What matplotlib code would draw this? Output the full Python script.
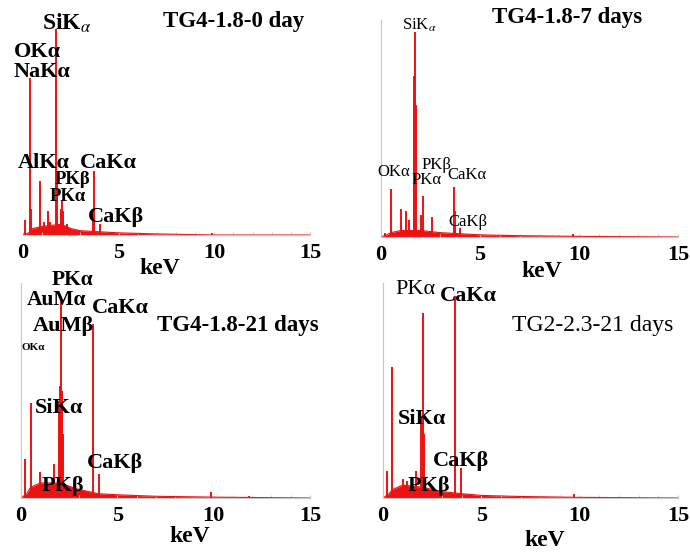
import matplotlib
matplotlib.use("Agg")
import matplotlib.pyplot as plt
from matplotlib.ticker import MultipleLocator

plt.rcParams['font.family'] = ['Liberation Serif', 'DejaVu Serif']
plt.rcParams['mathtext.fontset'] = 'stix'

RED = '#ee1111'
GRAY = '#c8c8c8'

# ---- data (energy in keV, height as fraction of panel) ----
p1_peak_e = [0.1, 0.36, 0.42, 0.88, 1.1, 1.3, 1.4, 1.72, 1.77, 2.0, 2.05, 2.1, 2.3, 3.65, 3.7, 4.05, 9.9]
p1_peak_h = [0.07, 0.73, 0.12, 0.25, 0.06, 0.11, 0.06, 0.96, 0.30, 0.12, 0.16, 0.11, 0.05, 0.10, 0.30, 0.05, 0.01]
p1_bg_e = [0, 0.3, 0.5, 1.0, 2.0, 2.5, 3.0, 4.0, 5.0, 7.0, 10.0, 15]
p1_bg_h = [0.0, 0.01, 0.03, 0.04, 0.05, 0.03, 0.02, 0.015, 0.01, 0.005, 0.0, 0.0]

p2_peak_e = [0.2, 0.5, 1.0, 1.27, 1.43, 1.65, 1.72, 1.78, 2.0, 2.1, 2.6, 3.7, 3.75, 4.0, 9.7]
p2_peak_h = [0.02, 0.22, 0.13, 0.12, 0.08, 0.74, 0.945, 0.61, 0.10, 0.19, 0.09, 0.23, 0.12, 0.04, 0.015]
p2_bg_e = [0, 0.3, 0.5, 1.0, 2.0, 3.0, 4.0, 5.0, 7.0, 10.0, 15]
p2_bg_h = [0.0, 0.01, 0.02, 0.03, 0.03, 0.02, 0.015, 0.01, 0.006, 0.003, 0.0]

p3_peak_e = [0.2, 0.5, 1.0, 1.3, 1.7, 1.95, 2.0, 2.07, 2.12, 2.18, 3.73, 4.07, 9.85, 11.85]
p3_peak_h = [0.18, 0.44, 0.12, 0.08, 0.16, 0.45, 0.52, 0.93, 0.50, 0.30, 0.81, 0.11, 0.03, 0.01]
p3_bg_e = [0, 0.3, 0.5, 1.0, 2.0, 3.0, 4.0, 5.0, 7.0, 10.0, 15]
p3_bg_h = [0.0, 0.02, 0.05, 0.07, 0.07, 0.04, 0.02, 0.015, 0.008, 0.004, 0.0]

p4_peak_e = [0.2, 0.46, 1.0, 1.2, 1.7, 1.95, 2.03, 2.1, 3.66, 3.97, 9.7]
p4_peak_h = [0.125, 0.61, 0.09, 0.08, 0.125, 0.37, 0.86, 0.30, 0.94, 0.14, 0.02]
p4_bg_e = [0, 0.3, 0.5, 1.0, 2.0, 3.0, 4.0, 5.0, 7.0, 10.0, 15]
p4_bg_h = [0.0, 0.02, 0.04, 0.06, 0.05, 0.03, 0.02, 0.012, 0.007, 0.003, 0.0]

x_ticks = [0, 5, 10, 15]
titles = ["TG4-1.8-0 day", "TG4-1.8-7 days", "TG4-1.8-21 days", "TG2-2.3-21 days"]

W, H = 690, 553
fig = plt.figure(figsize=(W / 100, H / 100), dpi=100)


def add_panel(x0, x1, ytop, ybase, left_spine):
    ax = fig.add_axes([x0 / W, 1 - ybase / H, (x1 - x0) / W, (ybase - ytop) / H])
    ax.set_xlim(0, 15)
    ax.set_ylim(0, 1)
    ax.set_yticks([])
    ax.set_xticks(x_ticks)
    ax.set_xticklabels([str(t) for t in x_ticks], fontsize=16, fontweight='bold')
    ax.xaxis.set_minor_locator(MultipleLocator(1))
    ax.tick_params(axis='x', which='both', direction='in', length=2, color=GRAY, pad=6)
    for s in ['top', 'right']:
        ax.spines[s].set_visible(False)
    ax.spines['bottom'].set_color(GRAY)
    ax.spines['left'].set_color(GRAY)
    ax.spines['left'].set_visible(left_spine)
    ax.patch.set_alpha(0)
    return ax


def draw_spectrum(ax, pe, ph, be, bh):
    ax.fill_between(be, 0, bh, color=RED, lw=0)
    ax.vlines(pe, 0, ph, color=RED, lw=1.4)
    ax.plot(be, bh, color=RED, lw=0.8)


def ftext(x, y, s, size=16, weight='bold', ha='left', va='center'):
    fig.text(x / W, 1 - y / H, s, fontsize=size, fontweight=weight, ha=ha, va=va)


ax1 = add_panel(23, 310, 20, 235, False)
ax2 = add_panel(381, 678, 20, 237, True)
ax3 = add_panel(21, 310, 283, 498, True)
ax4 = add_panel(383, 678, 283, 498, True)

draw_spectrum(ax1, p1_peak_e, p1_peak_h, p1_bg_e, p1_bg_h)
draw_spectrum(ax2, p2_peak_e, p2_peak_h, p2_bg_e, p2_bg_h)
draw_spectrum(ax3, p3_peak_e, p3_peak_h, p3_bg_e, p3_bg_h)
draw_spectrum(ax4, p4_peak_e, p4_peak_h, p4_bg_e, p4_bg_h)

# axis titles (keV)
ftext(160, 268, "keV", size=17, ha='center')
ftext(542, 272, "keV", size=17, ha='center')
ftext(190, 536, "keV", size=17, ha='center')
ftext(545, 541, "keV", size=17, ha='center')

# sample names
ftext(163, 22, titles[0], size=16.5)
ftext(492, 18, titles[1], size=16.5)
ftext(157, 326, titles[2], size=16.5)
ftext(512, 326, titles[3], size=17, weight='normal')

# peak labels, panel 1
ftext(42, 23, r"SiK$_{\alpha}$", size=17)
ftext(14, 52, "OKα")
ftext(14, 72, "NaKα")
ftext(18, 163, "AlKα")
ftext(80, 163, "CaKα")
ftext(55, 180, "PKβ", size=13.5)
ftext(50, 197, "PKα", size=13.5)
ftext(88, 217, "CaKβ")

# panel 2
ftext(402, 25, r"SiK$_{\alpha}$", size=12, weight='normal')
ftext(377, 172, "OKα", size=12, weight='normal')
ftext(422, 165, "PKβ", size=12, weight='normal')
ftext(412, 180, "PKα", size=12, weight='normal')
ftext(447, 175, "CaKα", size=12, weight='normal')
ftext(448, 222, "CaKβ", size=12, weight='normal')

# panel 3
ftext(52, 280, "PKα", size=15.5)
ftext(27, 300, "AuMα", size=15.5)
ftext(92, 308, "CaKα")
ftext(33, 326, "AuMβ")
ftext(21, 348, "OKα", size=8)
ftext(35, 408, "SiKα")
ftext(87, 463, "CaKβ")
ftext(42, 486, "PKβ")

# panel 4
ftext(395, 289, "PKα", weight='normal')
ftext(440, 296, "CaKα")
ftext(398, 419, "SiKα")
ftext(433, 461, "CaKβ")
ftext(408, 486, "PKβ")

fig.savefig("out.png", dpi=100)
